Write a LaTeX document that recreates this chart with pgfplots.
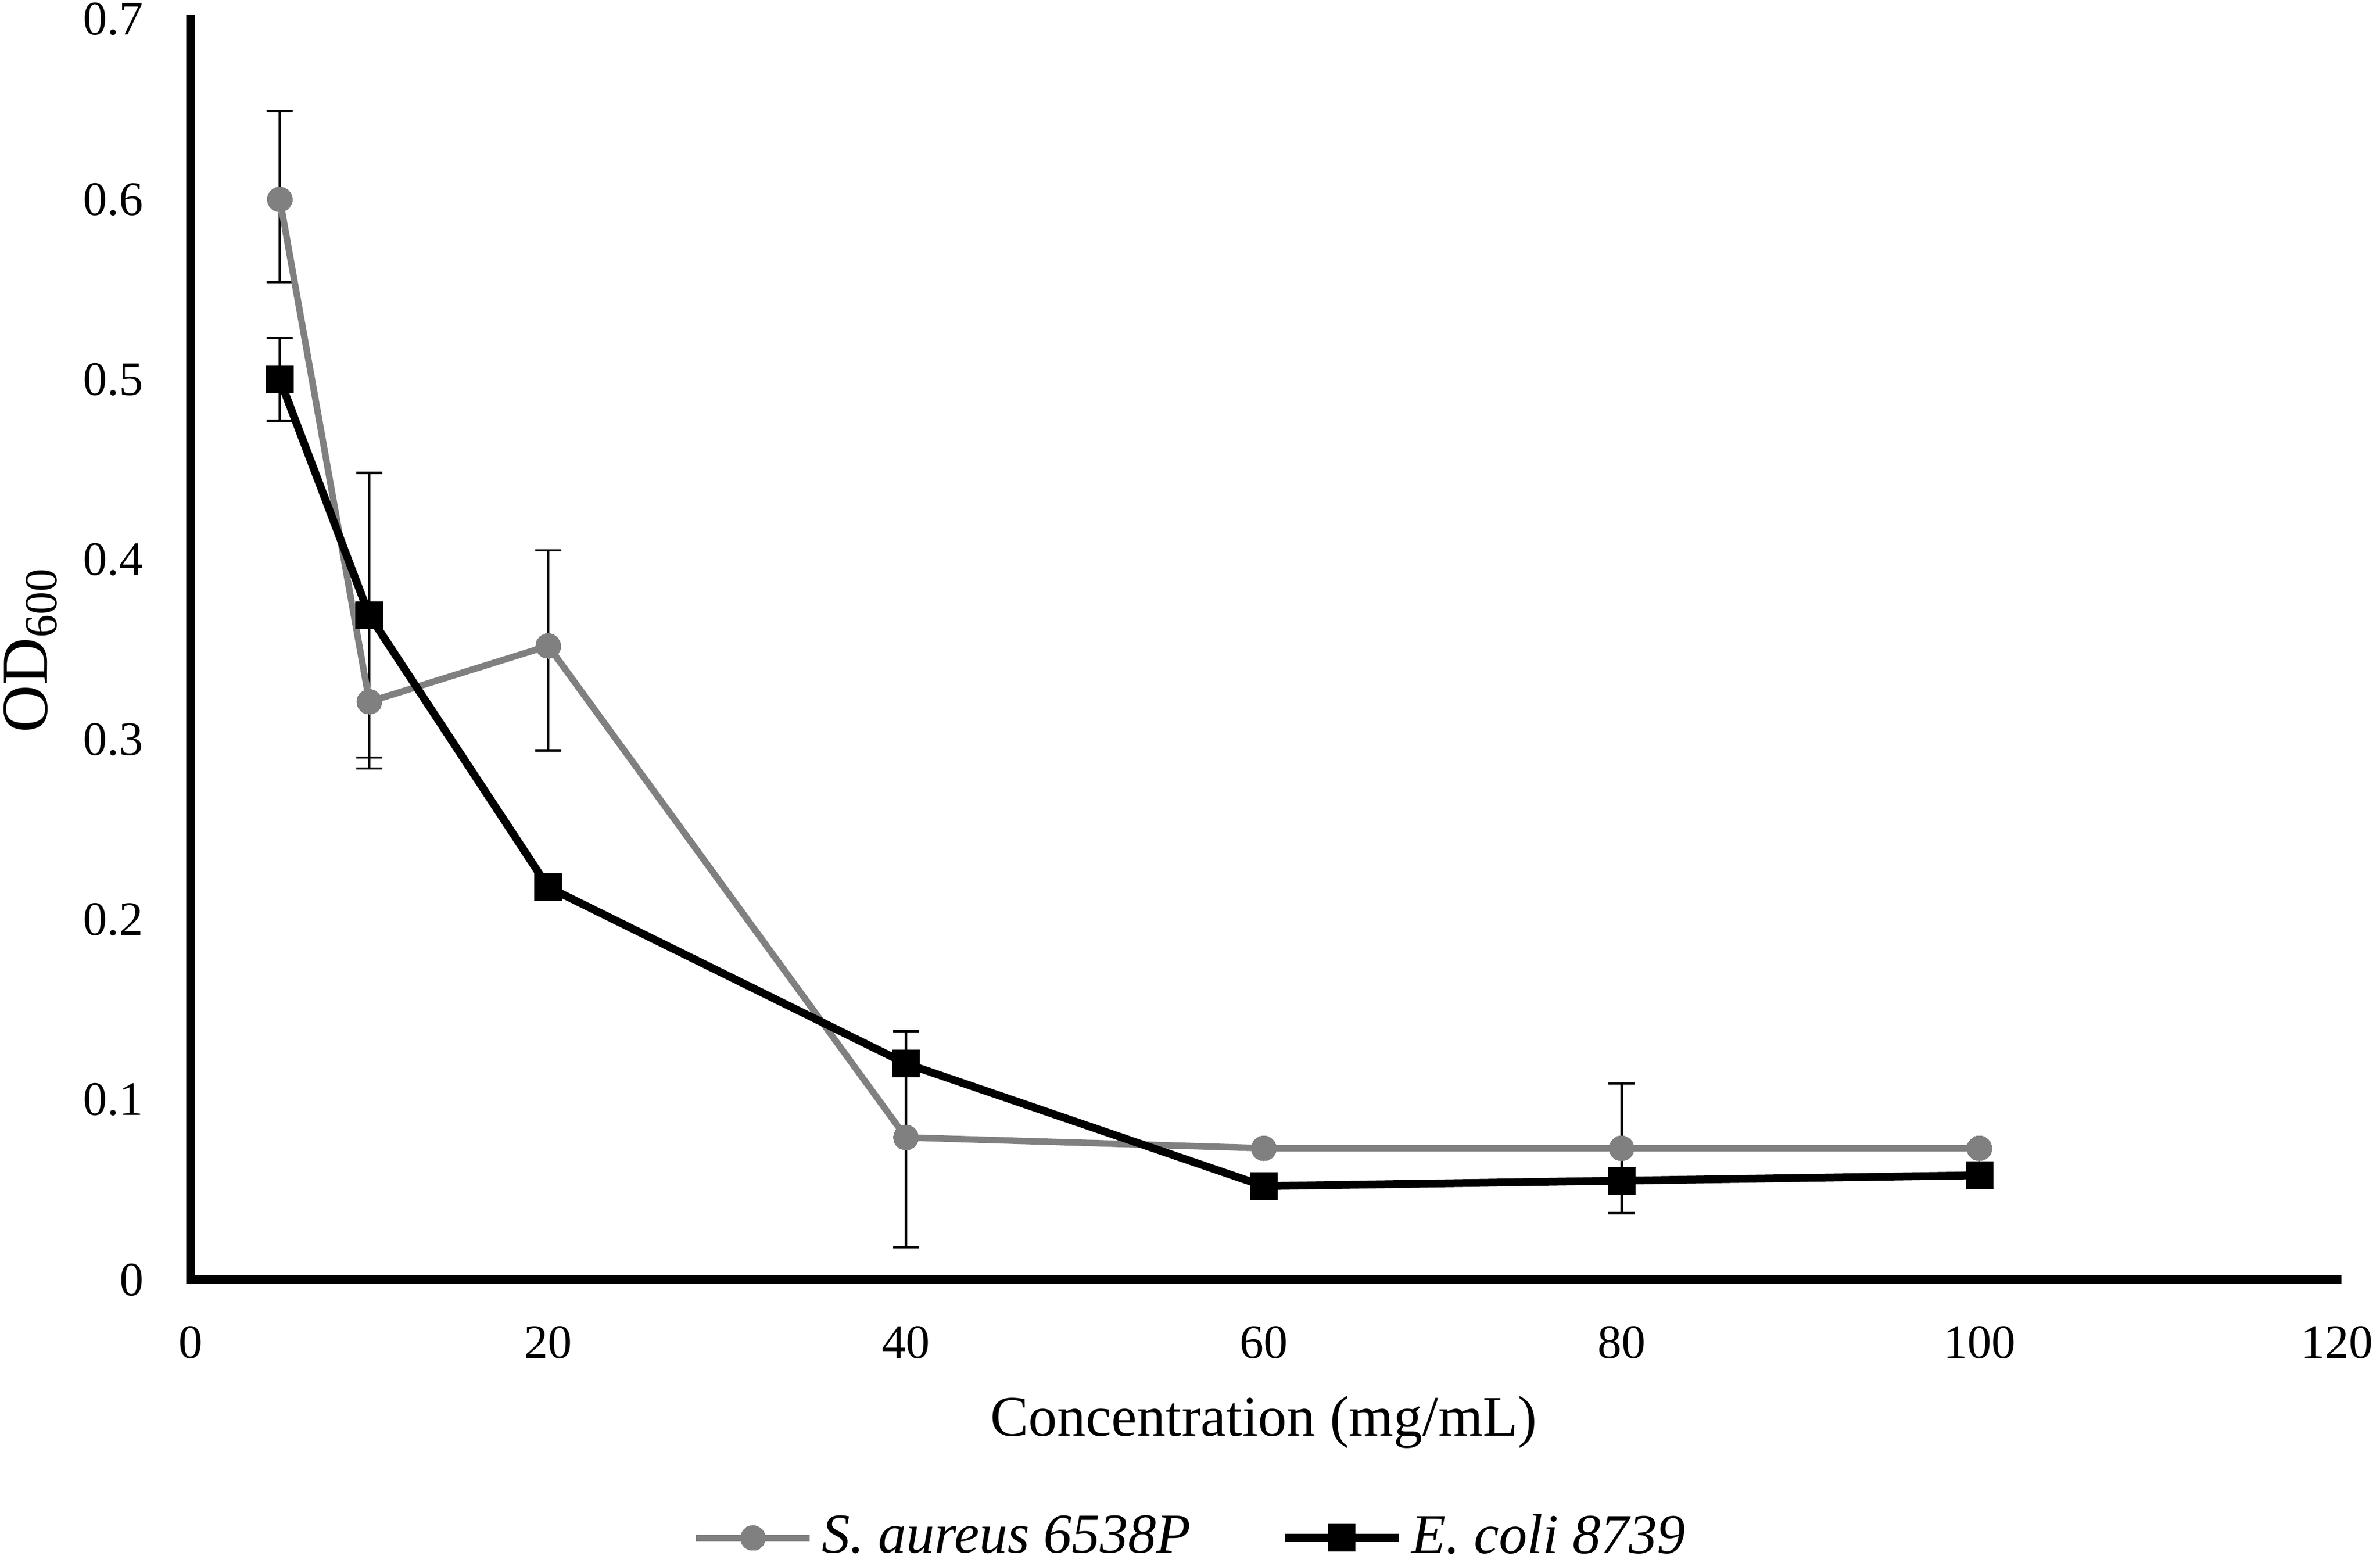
\documentclass[border=0pt]{standalone}
\usepackage{fontspec}
\setmainfont{Liberation Serif}
\usepackage{pgfplots}
\usepackage{pgfplotstable}
\pgfplotsset{compat=1.18}
\definecolor{sagray}{RGB}{128,128,128}

\pgfplotstableread{
x    y      ep     em
5    0.600  0.049  0.046
10   0.321  0.042  0.037
20   0.352  0.053  0.058
40   0.079  0.059  0.061
60   0.073  0      0
80   0.073  0.036  0.036
100  0.073  0      0
}\saureus

\pgfplotstableread{
x    y      ep     em
5    0.500  0.023  0.023
10   0.369  0.079  0.079
20   0.218  0      0
40   0.120  0      0
60   0.052  0      0
80   0.055  0      0
100  0.058  0      0
}\ecoli

\pgfplotstableread{
x    y      ep     em
5    0.600  0.049  0.046
10   0.321  0.042  0.037
20   0.352  0.053  0.058
40   0.079  0.059  0.061
80   0.073  0.036  0.036
}\saerr

\pgfplotstableread{
x    y      ep     em
5    0.500  0.023  0.023
10   0.369  0.079  0.079
}\ecerr

\pgfplotsset{myerr/.style={black, only marks, mark=none, forget plot,
  error bars/.cd, y dir=both, y explicit, error mark=-,
  error bar style={draw=black, line width=0.45pt},
  error mark options={rotate=90, draw=black, line width=0.45pt, mark size=2.5pt}}}

\begin{document}
\begin{tikzpicture}
\begin{axis}[
  at={(36.5pt,54.3pt)}, anchor=south west,
  scale only axis,
  width=411.5pt, height=241.6pt,
  xmin=0, xmax=120, ymin=0, ymax=0.7,
  axis x line*=bottom, axis y line*=left,
  axis line style={-, line width=1.7pt, line cap=rect, black},
  xtick={0,20,40,60,80,100,120},
  ytick={0,0.1,0.2,0.3,0.4,0.5,0.6,0.7},
  major tick length=0pt,
  tick style={draw=none},
  /pgf/number format/assume math mode=true,
  yticklabel style={/pgf/number format/fixed, /pgf/number format/precision=1,
    font=\fontsize{9.2}{11}\selectfont, anchor=east, inner sep=0pt, xshift=-8.8pt},
  xticklabel style={font=\fontsize{9.2}{11}\selectfont, anchor=north, inner sep=0pt, yshift=-8.7pt},
  xlabel={Concentration (mg/mL)},
  xlabel style={font=\fontsize{11}{13}\selectfont, at={(axis description cs:0.5,0)}, anchor=base, inner sep=0pt, yshift=-30pt},
  ylabel={OD\textsubscript{600}},
  ylabel style={font=\fontsize{12.6}{15}\selectfont, at={(axis description cs:-0.0875,0.5)}, anchor=north, inner sep=0pt},
  legend columns=2,
  legend style={draw=none, fill=none, inner sep=0pt, outer sep=0pt,
    at={(axis description cs:0,0)}, anchor=west, xshift=96.3pt, yshift=-49.5pt,
    font=\fontsize{10.8}{12}\selectfont,
    nodes={inner sep=0pt},
    /tikz/every odd column/.append style={column sep=1.7pt},
    /tikz/every even column/.append style={column sep=17.3pt}},
  legend image code/.code={\draw[mark repeat=2, mark phase=2, #1] plot coordinates {(0pt,0pt) (10.9pt,0pt) (21.8pt,0pt)};},
  clip=false,
]
\addplot[myerr] table[x=x, y=y, y error plus=ep, y error minus=em] {\saerr};
\addplot[myerr] table[x=x, y=y, y error plus=ep, y error minus=em] {\ecerr};
\addplot[sagray, line width=1.25pt, mark=*, mark size=2.4pt,
  mark options={fill=sagray, draw=sagray, line width=0pt}]
  table[x=x, y=y] {\saureus};
\addlegendentry{\textit{S. aureus 6538P}}
\addplot[black, line width=1.5pt, mark=square*, mark size=2.6pt,
  mark options={fill=black, draw=black, line width=0pt}]
  table[x=x, y=y] {\ecoli};
\addlegendentry{\textit{E. coli 8739}}
\end{axis}
\pgfresetboundingbox
\path (0,0) rectangle (456.2pt,299.6pt);
\end{tikzpicture}
\end{document}
